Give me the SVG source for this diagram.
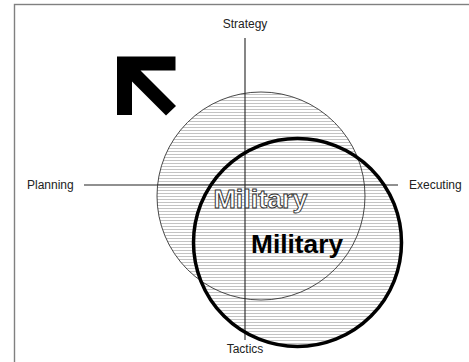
<svg xmlns="http://www.w3.org/2000/svg" width="469" height="362" viewBox="0 0 469 362">
<defs>
<pattern id="hatch" patternUnits="userSpaceOnUse" x="0" y="0" width="8" height="3">
<rect x="0" y="0" width="8" height="3" fill="#fff"/>
<line x1="0" y1="1.5" x2="8" y2="1.5" stroke="#b4b4b4" stroke-width="0.8"/>
</pattern>
</defs>
<style>
.lbl{font-family:"Liberation Sans",Arial,sans-serif;font-size:12px;fill:#222}
.axis{stroke:#222;stroke-width:1.1;fill:none}
</style>
<rect x="0" y="0" width="469" height="362" fill="#fff"/>
<rect x="14.5" y="4.5" width="470" height="370" fill="none" stroke="#808080" stroke-width="1.4"/>
<g id="circle-fills">
<circle cx="261" cy="196" r="104" fill="url(#hatch)"/>
<circle cx="297.5" cy="242.5" r="104" fill="url(#hatch)"/>
</g>
<g id="circle-strategy">
<circle cx="261" cy="196" r="104" fill="none" stroke="#333" stroke-width="0.9"/>
</g>
<g id="connectors">
<line class="axis" x1="245" y1="38" x2="245" y2="340"/>
<line class="axis" x1="84" y1="185" x2="398" y2="185"/>
</g>
<g id="circle-tactics">
<circle cx="297.5" cy="242.5" r="104" fill="none" stroke="#000" stroke-width="3.5"/>
</g>
<g id="arrow">
<polygon points="117,56.5 175.5,56.5 175.5,70.5 140.5,70.5 176,106 166,115.5 132,81.5 132,115 117,115" fill="#000"/>
</g>
<g id="labels">
<text class="lbl" x="245" y="28" text-anchor="middle">Strategy</text>
<text class="lbl" x="27" y="189">Planning</text>
<text class="lbl" x="409" y="189">Executing</text>
<text class="lbl" x="245" y="353" text-anchor="middle">Tactics</text>
</g>
<g id="military-outline">
<text x="213.5" y="208" font-family="'Liberation Sans',Arial,sans-serif" font-size="25" font-weight="bold" fill="#fff" stroke="#333" stroke-width="0.9" textLength="94" lengthAdjust="spacingAndGlyphs">Military</text>
</g>
<g id="military-bold">
<text x="251" y="252.5" font-family="'Liberation Sans',Arial,sans-serif" font-size="25.5" font-weight="bold" fill="#000" textLength="92" lengthAdjust="spacingAndGlyphs">Military</text>
</g>
</svg>
